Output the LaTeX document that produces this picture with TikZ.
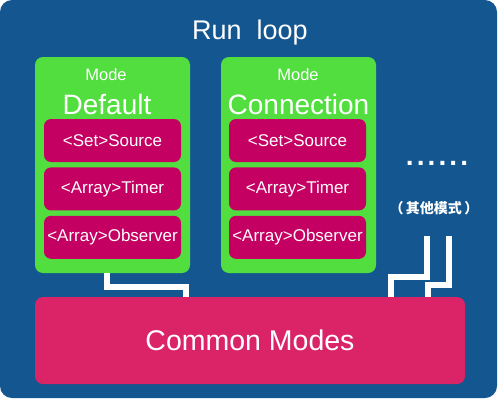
\documentclass[tikz,border=0pt]{standalone}
\definecolor{loopblue}{HTML}{145690}
\definecolor{modegreen}{HTML}{52DE3F}
\definecolor{itemred}{HTML}{C40062}
\definecolor{commonpink}{HTML}{DB2468}
\usepackage{fontspec}
\setmainfont{Liberation Sans}
\newfontfamily\cjk{Noto Sans CJK SC}
\newfontfamily\dotfont[LetterSpace=11]{Liberation Sans}
\usepackage{tikz}
\usetikzlibrary{positioning}

\begin{document}
\begin{tikzpicture}[x=1pt, y=-1pt,
    modebox/.style={fill=modegreen, rounded corners=8pt, minimum width=155pt, minimum height=216pt, inner sep=0pt},
    itembox/.style={fill=itemred, text=white, rounded corners=7pt, minimum width=137pt, minimum height=43pt, inner sep=0pt, font=\fontsize{17}{17}\selectfont},
    modelabel/.style={text=white, font=\fontsize{16.5}{16.5}\selectfont},
    modename/.style={text=white, font=\fontsize{28}{28}\selectfont},
    link/.style={draw=white, line width=5.5pt}]
      \useasboundingbox (0,0) rectangle (500,400);
      % Run loop
      \fill[loopblue, rounded corners=12pt] (0,0) rectangle (497,398);
      \node[text=white, anchor=base, font=\fontsize{27}{27}\selectfont] (title) at (250,39) {Run\ \ loop};

      % Default mode
      \node[modebox] (default) at (112.5,165) {};
      \node[modelabel] (defmode) at (106,75) {Mode};
      \node[modename] (defname) at (107,104) {Default};
      \node[itembox] (defsource) at (112.5,140.5) {<Set>Source};
      \node[itembox, below=5pt of defsource] (deftimer) {<Array>Timer};
      \node[itembox, below=5pt of deftimer] (defobserver) {<Array>Observer};

      % Connection mode
      \node[modebox] (conn) at (298.5,165) {};
      \node[modelabel] (connmode) at (298,75) {Mode};
      \node[modename] (connname) at (298.5,104) {Connection};
      \node[itembox] (connsource) at (297.5,140.5) {<Set>Source};
      \node[itembox, below=5pt of connsource] (conntimer) {<Array>Timer};
      \node[itembox, below=5pt of conntimer] (connobserver) {<Array>Observer};

      % Other modes
      \node[text=white, font=\dotfont\bfseries\fontsize{28}{28}\selectfont] (dots) at (437,163) {......};
      \node[text=white, font=\cjk\bfseries\fontsize{14}{14}\selectfont] (others) at (434,208) {（\,其他模式\,）};
      \coordinate (otherA) at (427,236);
      \coordinate (otherB) at (449,236);

      % Common modes
      \node[fill=commonpink, text=white, rounded corners=8pt, minimum width=430pt, minimum height=87pt,
            font=\fontsize{28.5}{28.5}\selectfont] (common) at (250,340.5) {\raisebox{-3.5pt}{Common Modes}};

      % Links
      \draw[link] ([xshift=-5.5pt]default.south) |- ([xshift=-64pt,yshift=10pt]common.north)
        -- ([xshift=-64pt]common.north);
      \draw[link] (otherA) |- ([xshift=141pt,yshift=20pt]common.north) -- ([xshift=141pt]common.north);
      \draw[link] (otherB) |- ([xshift=178pt,yshift=12pt]common.north) -- ([xshift=178pt]common.north);
    \end{tikzpicture}
\end{document}
